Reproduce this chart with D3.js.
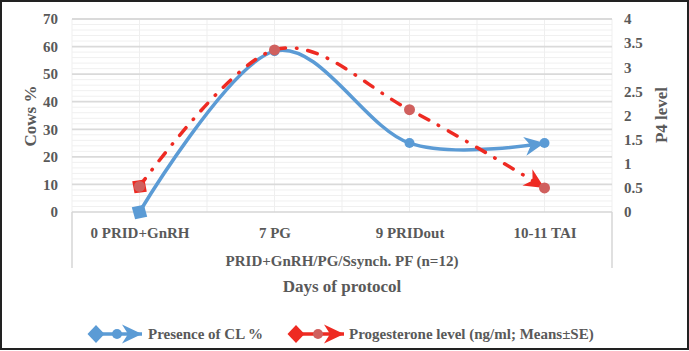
<!DOCTYPE html>
<html>
<head>
<meta charset="utf-8">
<script src="https://cdn.jsdelivr.net/npm/d3@7/dist/d3.min.js"></script>
<style>
  html, body { margin: 0; padding: 0; background: #fff; }
  svg { display: block; font-family: "Liberation Serif", "Times New Roman", serif; font-weight: bold; }
</style>
</head>
<body>
<svg id="chart" width="689" height="351"></svg>
<script>
// ---- data ----
const categories = ["0 PRID+GnRH", "7 PG", "9 PRIDout", "10-11 TAI"];
const clPresence = [0, 58.33, 25, 25];          // Presence of CL % (left axis)
const progesterone = [0.53, 3.36, 2.12, 0.5];   // Progesterone level ng/ml (right axis)
const leftTicks = [0, 10, 20, 30, 40, 50, 60, 70];
const rightTicks = [0, 0.5, 1, 1.5, 2, 2.5, 3, 3.5, 4];
const groupLabel = "PRID+GnRH/PG/Ssynch. PF (n=12)";
const xTitle = "Days of protocol";
const yLeftTitle = "Cows %";
const yRightTitle = "P4 level";
const seriesNames = ["Presence of CL %", "Progesterone level (ng/ml; Means±SE)"];

// ---- layout ----
const svg = d3.select("#chart");
const W = 689, H = 351;
const plot = { left: 72, right: 612, top: 19, bottom: 212 };
const textColor = "#595959";
const blue = "#5b9bd5";
const red = "#ee2a22";
const redMarker = "#d0605e";

const x = d3.scalePoint().domain(categories).range([plot.left, plot.right]).padding(0.5);
const yL = d3.scaleLinear().domain([0, 70]).range([plot.bottom, plot.top]);
const yR = d3.scaleLinear().domain([0, 4]).range([plot.bottom, plot.top]);

// outer border
svg.append("rect").attr("x", 1).attr("y", 1).attr("width", W - 2).attr("height", H - 3)
  .attr("fill", "#fff").attr("stroke", "#222").attr("stroke-width", 2);

// defs: markers
const defs = svg.append("defs");
function addMarkers(id, color) {
  defs.append("marker").attr("id", "arrow-" + id)
    .attr("markerUnits", "userSpaceOnUse").attr("orient", "auto")
    .attr("viewBox", "-22 -11 24 22").attr("markerWidth", 24).attr("markerHeight", 22)
    .attr("refX", 0).attr("refY", 0)
    .append("path").attr("d", "M0,0 L-20,-9.5 L-14,0 L-20,9.5 Z").attr("fill", color);
  defs.append("marker").attr("id", "diamond-" + id)
    .attr("markerUnits", "userSpaceOnUse").attr("orient", "auto")
    .attr("viewBox", "-10 -11 20 22").attr("markerWidth", 20).attr("markerHeight", 22)
    .attr("refX", 0).attr("refY", 0)
    .append("path").attr("d", "M-8.5,0 L0,-9 L8.5,0 L0,9 Z").attr("fill", color);
}
addMarkers("blue", blue);
addMarkers("red", red);

// gridlines
const grid = svg.append("g");
const minorVals = d3.range(0, 70.001, 2).filter(v => v % 10 !== 0);
grid.selectAll(".minor").data(minorVals).join("line")
  .attr("x1", plot.left).attr("x2", plot.right)
  .attr("y1", d => yL(d)).attr("y2", d => yL(d))
  .attr("stroke", "#f0f0f0").attr("stroke-width", 1);
const vLines = [];
categories.forEach(c => { vLines.push(x(c)); vLines.push(x(c) - x.step() / 2); });
vLines.push(plot.right);
grid.selectAll(".vline").data(vLines).join("line")
  .attr("x1", d => d).attr("x2", d => d)
  .attr("y1", plot.top).attr("y2", plot.bottom)
  .attr("stroke", "#efefef").attr("stroke-width", 1);
grid.selectAll(".major").data(leftTicks.filter(v => v > 0)).join("line")
  .attr("x1", plot.left).attr("x2", plot.right)
  .attr("y1", d => yL(d)).attr("y2", d => yL(d))
  .attr("stroke", "#dadada").attr("stroke-width", 1.8);

// category axis box
svg.append("line").attr("x1", plot.left).attr("x2", plot.right)
  .attr("y1", plot.bottom).attr("y2", plot.bottom).attr("stroke", "#d6d6d6").attr("stroke-width", 1.5);
[plot.left, plot.right].forEach(xx => {
  svg.append("line").attr("x1", xx).attr("x2", xx).attr("y1", plot.bottom).attr("y2", 268)
    .attr("stroke", "#d6d6d6").attr("stroke-width", 1.5);
});

// left axis
const axL = svg.append("g").attr("transform", `translate(${plot.left - 14},0)`)
  .call(d3.axisLeft(yL).tickValues(leftTicks).tickSize(0).tickPadding(0).tickFormat(d3.format("d")));
axL.select(".domain").remove();
axL.selectAll("text").attr("fill", textColor).style("font-size", "15px")
  .style("font-family", "Liberation Serif").style("font-weight", "bold");

// right axis
const axR = svg.append("g").attr("transform", `translate(${plot.right + 12},0)`)
  .call(d3.axisRight(yR).tickValues(rightTicks).tickSize(0).tickPadding(0).tickFormat(d => String(d)));
axR.select(".domain").remove();
axR.selectAll("text").attr("fill", textColor).style("font-size", "15px")
  .style("font-family", "Liberation Serif").style("font-weight", "bold");

// bottom category labels
const axB = svg.append("g").attr("transform", `translate(0,${plot.bottom})`)
  .call(d3.axisBottom(x).tickSize(0).tickPadding(15));
axB.select(".domain").remove();
axB.selectAll("text").attr("fill", textColor).style("font-size", "15px")
  .style("font-family", "Liberation Serif").style("font-weight", "bold");

svg.append("text").attr("x", (plot.left + plot.right) / 2).attr("y", 261).attr("dy", "0.35em")
  .attr("text-anchor", "middle").attr("fill", textColor).style("font-size", "15px").text(groupLabel);
svg.append("text").attr("x", (plot.left + plot.right) / 2).attr("y", 286).attr("dy", "0.35em")
  .attr("text-anchor", "middle").attr("fill", textColor).style("font-size", "17px").text(xTitle);

svg.append("text").attr("transform", "translate(30,116) rotate(-90)").attr("dy", "0.35em")
  .attr("text-anchor", "middle").attr("fill", textColor).style("font-size", "17px").text(yLeftTitle);
svg.append("text").attr("transform", "translate(661,115) rotate(-90)").attr("dy", "0.35em")
  .attr("text-anchor", "middle").attr("fill", textColor).style("font-size", "17px").text(yRightTitle);

// series
const curve = d3.curveCardinal.tension(0);
const lineL = d3.line().x((d, i) => x(categories[i])).y(d => yL(d)).curve(curve);
const lineR = d3.line().x((d, i) => x(categories[i])).y(d => yR(d)).curve(curve);

svg.append("path").attr("d", lineL(clPresence)).attr("fill", "none")
  .attr("stroke", blue).attr("stroke-width", 3.5)
  .attr("marker-start", "url(#diamond-blue)").attr("marker-end", "url(#arrow-blue)");
svg.selectAll(".bdot").data(clPresence).join("circle")
  .filter((d, i) => i > 0)
  .attr("cx", (d, i) => x(categories[i + 1])).attr("cy", d => yL(d)).attr("r", 5).attr("fill", blue);

svg.append("path").attr("d", lineR(progesterone)).attr("fill", "none")
  .attr("stroke", red).attr("stroke-width", 3.5)
  .attr("stroke-dasharray", "10,11,0.5,11").attr("stroke-linecap", "round")
  .attr("marker-start", "url(#diamond-red)").attr("marker-end", "url(#arrow-red)");
svg.selectAll(".rdot").data(progesterone).join("circle")
  .attr("cx", (d, i) => x(categories[i])).attr("cy", d => yR(d)).attr("r", 5.5).attr("fill", redMarker);

// legend
const legend = svg.append("g");
const legendItems = [
  { name: seriesNames[0], color: blue, dot: blue, id: "blue", x0: 94, x1: 142, tx: 148 },
  { name: seriesNames[1], color: red, dot: redMarker, id: "red", x0: 294, x1: 344, tx: 349 }
];
const ly = 334;
legendItems.forEach(it => {
  legend.append("line").attr("x1", it.x0 + 2).attr("x2", it.x1).attr("y1", ly).attr("y2", ly)
    .attr("stroke", it.color).attr("stroke-width", 3.5)
    .attr("marker-start", `url(#diamond-${it.id})`).attr("marker-end", `url(#arrow-${it.id})`);
  legend.append("circle").attr("cx", (it.x0 + it.x1) / 2 - 1).attr("cy", ly).attr("r", 5).attr("fill", it.dot);
  legend.append("text").attr("x", it.tx).attr("y", ly).attr("dy", "0.35em")
    .attr("fill", textColor).style("font-size", "15px").text(it.name);
});
</script>
</body>
</html>
